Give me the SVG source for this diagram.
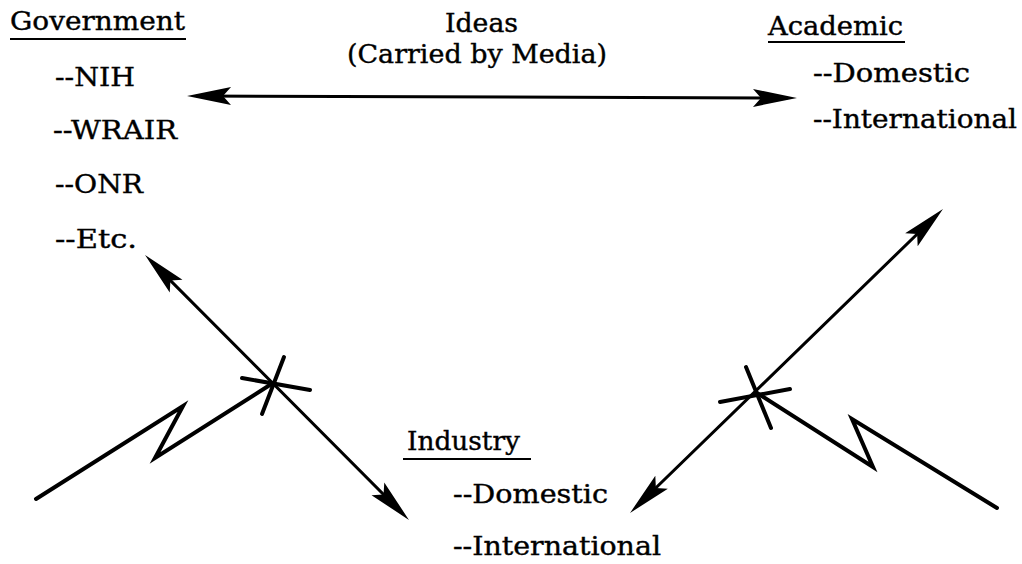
<svg xmlns="http://www.w3.org/2000/svg" width="1022" height="564" viewBox="0 0 1022 564">
<style>
text{font-family:"DejaVu Serif","Liberation Serif",serif;font-size:26px;fill:#000;stroke:#000;stroke-width:0.4}
.ul{stroke:#000;stroke-width:2}
.ln{fill:none;stroke:#000;stroke-width:3;stroke-linecap:round;stroke-linejoin:miter}
.zz{fill:none;stroke:#000;stroke-width:4;stroke-linecap:round;stroke-linejoin:miter}
.cr{fill:none;stroke:#000;stroke-width:4;stroke-linecap:round}
</style>
<defs>
<marker id="ah" markerUnits="userSpaceOnUse" markerWidth="60" markerHeight="30" refX="0" refY="0" orient="auto-start-reverse" overflow="visible" viewBox="-40 -15 60 30">
<path d="M10,0 L-34,-9 L-26,0 L-34,9 Z" fill="#000"/>
</marker>
</defs>
<rect width="1022" height="564" fill="#fff"/>
<g id="government">
<text x="10" y="30" textLength="175" lengthAdjust="spacingAndGlyphs">Government</text>
<line class="ul" x1="10" y1="39" x2="186" y2="39"/>
<text x="55" y="86" textLength="80" lengthAdjust="spacingAndGlyphs">--NIH</text>
<text x="53" y="139" textLength="124" lengthAdjust="spacingAndGlyphs">--WRAIR</text>
<text x="55" y="193" textLength="88" lengthAdjust="spacingAndGlyphs">--ONR</text>
<text x="55" y="248" textLength="82" lengthAdjust="spacingAndGlyphs">--Etc.</text>
</g>
<g id="ideas">
<text x="445" y="32" textLength="73" lengthAdjust="spacingAndGlyphs">Ideas</text>
<text x="347" y="63" textLength="260" lengthAdjust="spacingAndGlyphs">(Carried by Media)</text>
</g>
<g id="academic">
<text x="768" y="35" textLength="135" lengthAdjust="spacingAndGlyphs">Academic</text>
<line class="ul" x1="768" y1="42" x2="905" y2="42"/>
<text x="813" y="82" textLength="157" lengthAdjust="spacingAndGlyphs">--Domestic</text>
<text x="813" y="128" textLength="204" lengthAdjust="spacingAndGlyphs">--International</text>
</g>
<g id="industry">
<text x="407" y="450" textLength="113" lengthAdjust="spacingAndGlyphs">Industry</text>
<line class="ul" x1="403" y1="459" x2="531" y2="459"/>
<text x="453" y="503" textLength="155" lengthAdjust="spacingAndGlyphs">--Domestic</text>
<text x="453" y="555" textLength="208" lengthAdjust="spacingAndGlyphs">--International</text>
</g>
<g id="connectors">
<line class="ln" x1="197" y1="96" x2="787" y2="98" stroke-linecap="butt" marker-start="url(#ah)" marker-end="url(#ah)"/>
<line class="ln" x1="152.1" y1="262.1" x2="401.9" y2="512.9" stroke-linecap="butt" marker-start="url(#ah)" marker-end="url(#ah)"/>
<line class="ln" x1="637.2" y1="506" x2="935.8" y2="216" stroke-linecap="butt" marker-start="url(#ah)" marker-end="url(#ah)"/>
<polyline class="zz" points="36,499 183,406 155,458 273,383"/>
<polyline class="zz" points="757,393 873,467 852,419 997,508"/>
<line class="cr" x1="242" y1="378" x2="310" y2="390"/>
<line class="cr" x1="284" y1="357" x2="262" y2="414"/>
<line class="cr" x1="720" y1="402" x2="790" y2="389"/>
<line class="cr" x1="746" y1="367" x2="771" y2="428"/>
</g>
</svg>
